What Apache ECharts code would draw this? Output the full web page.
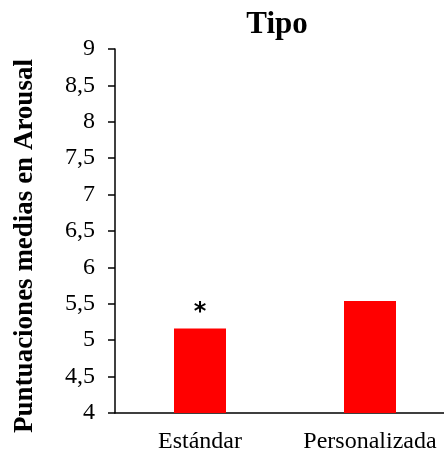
<!DOCTYPE html>
<html><head><meta charset="utf-8">
<script src="https://cdn.jsdelivr.net/npm/echarts@6/dist/echarts.min.js"></script>
<style>html,body{margin:0;padding:0;background:#fff}#c{width:444px;height:452px}</style>
</head><body><div id="c"></div>
<script>
var categories = ['Estándar', 'Personalizada'];
var values = [5.16, 5.54];
var marks = ['*', ''];
var yTicks = [4, 4.5, 5, 5.5, 6, 6.5, 7, 7.5, 8, 8.5, 9];

var chart = echarts.init(document.getElementById('c'));
var serif = '"Liberation Serif", "Times New Roman", serif';
chart.setOption({
  animation: false,
  title: {
    text: 'Tipo', left: 277, top: 9, textAlign: 'center', padding: 0,
    textStyle: {fontFamily: serif, fontWeight: 'bold', fontSize: 31, color: '#000'}
  },
  grid: {left: 115, top: 49, width: 340, height: 364, containLabel: false, outerBoundsMode: 'none'},
  xAxis: {
    type: 'category', data: categories,
    axisLine: {lineStyle: {color: '#000', width: 1.5}},
    axisTick: {show: false},
    axisLabel: {fontFamily: serif, fontSize: 24, color: '#000', margin: 17,
      interval: 0, hideOverlap: false, showMaxLabel: true, showMinLabel: true}
  },
  yAxis: {
    type: 'value', min: 4, max: 9, interval: 0.5,
    name: 'Puntuaciones medias en Arousal', nameLocation: 'middle', nameGap: 76,
    nameTextStyle: {fontFamily: serif, fontWeight: 'bold', fontSize: 27, color: '#000',
      padding: [0, 30, 0, 0]},
    axisLine: {show: true, lineStyle: {color: '#000', width: 1.5}},
    axisTick: {show: true, length: 7, lineStyle: {color: '#000', width: 1.5}},
    splitLine: {show: false},
    axisLabel: {fontFamily: serif, fontSize: 24, color: '#000', margin: 20,
      formatter: function (v) { return String(v).replace('.', ','); }}
  },
  series: [{
    type: 'bar', data: values, barWidth: 52,
    itemStyle: {color: '#FF0000'},
    label: {show: true, position: 'top', distance: 4,
      formatter: function (p) { return marks[p.dataIndex]; },
      fontFamily: '"DejaVu Sans", sans-serif', fontWeight: 'bold', fontSize: 24, color: '#000'}
  }]
});
</script></body></html>
